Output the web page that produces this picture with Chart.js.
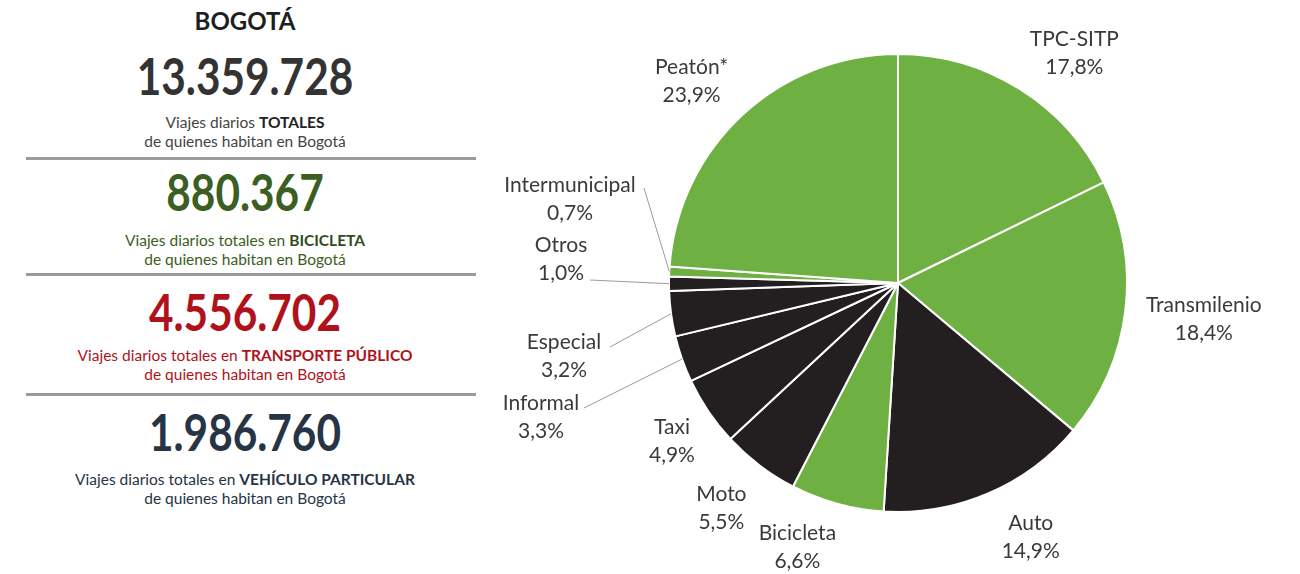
<!DOCTYPE html>
<html>
<head>
<meta charset="utf-8">
<script src="https://cdn.jsdelivr.net/npm/chart.js@4"></script>
<style>
  html, body { margin: 0; padding: 0; background: #fff; }
  body { width: 1300px; height: 574px; position: relative; overflow: hidden; font-family: Lato, "Open Sans", sans-serif; }
  .blk { position: absolute; left: 0; width: 490px; text-align: center; line-height: 1; }
  .big { font-weight: 700; font-size: 51px; transform: scaleX(0.83); }
  .sub { font-size: 15.5px; line-height: 19px; }
  .sub b { font-size: 15.5px; }
  .rule { position: absolute; left: 26px; width: 450px; height: 3px; background: #9b9b9b; }
  #wrap { position: absolute; left: 480px; top: 0; width: 820px; height: 574px; }
</style>
</head>
<body>
<div class="blk" style="top:9px;font-size:24px;font-weight:700;color:#1e1e1e">BOGOTÁ</div>
<div class="blk big" style="top:50px;color:#333">13.359.728</div>
<div class="blk sub" style="top:113px;color:#444">Viajes diarios <b style="color:#222">TOTALES</b><br>de quienes habitan en Bogotá</div>
<div class="rule" style="top:157px"></div>
<div class="blk big" style="top:166px;color:#3b5e22">880.367</div>
<div class="blk sub" style="top:231px;color:#3b5e22">Viajes diarios totales en <b style="color:#2f4d1a">BICICLETA</b><br>de quienes habitan en Bogotá</div>
<div class="rule" style="top:273px"></div>
<div class="blk big" style="top:286px;color:#b0121b">4.556.702</div>
<div class="blk sub" style="top:346px;color:#b0121b">Viajes diarios totales en <b>TRANSPORTE PÚBLICO</b><br>de quienes habitan en Bogotá</div>
<div class="rule" style="top:393px"></div>
<div class="blk big" style="top:406px;color:#263445">1.986.760</div>
<div class="blk sub" style="top:470px;color:#263445">Viajes diarios totales en <b>VEHÍCULO PARTICULAR</b><br>de quienes habitan en Bogotá</div>

<div id="wrap"><canvas id="pie"></canvas></div>

<script>
// reparto modal de viajes (%)
const modos = ['TPC-SITP', 'Transmilenio', 'Auto', 'Bicicleta', 'Moto', 'Taxi', 'Informal', 'Especial', 'Otros', 'Intermunicipal', 'Peatón*'];
const porcentajes = [17.8, 18.4, 14.9, 6.6, 5.5, 4.9, 3.3, 3.2, 1.0, 0.7, 23.9];

const VERDE = '#6fb043';
const NEGRO = '#231f20';
const colores = [VERDE, VERDE, NEGRO, VERDE, NEGRO, NEGRO, NEGRO, NEGRO, NEGRO, VERDE, VERDE];

// etiquetas pequeñas con línea guía (desplazamiento respecto al centro del pastel)
const guias = {
    'Intermunicipal': { tx: -328, ty: -84, lx: -254, ly: -95 },
    'Otros':          { tx: -337, ty: -24, lx: -308, ly: -3 },
    'Especial':       { tx: -334, ty: 73,  lx: -288, ly: 64 },
    'Informal':       { tx: -357, ty: 134, lx: -314, ly: 125 }
};

// pequeños ajustes a mano de las etiquetas exteriores
const ajustes = {
    'TPC-SITP':     [26, 11],
    'Transmilenio': [24, 2],
    'Auto':         [21, -7],
    'Bicicleta':    [-25, -9],
    'Moto':         [-5, -1],
    'Taxi':         [9, -1],
    'Peatón*':      [-13, 6]
};

function fmt(v) {
    return v.toFixed(1).replace('.', ',') + '%';
}

const etiquetas = {
    id: 'etiquetas',
    afterDraw(chart) {
        const ctx = chart.ctx;
        const meta = chart.getDatasetMeta(0);
        ctx.save();
        ctx.font = '21px Lato, "Open Sans", sans-serif';
        ctx.fillStyle = '#3a3a3a';
        ctx.textAlign = 'center';
        ctx.textBaseline = 'middle';
        meta.data.forEach((arc, i) => {
            const p = arc.getProps(['x', 'y', 'outerRadius', 'startAngle', 'endAngle'], true);
            const mid = (p.startAngle + p.endAngle) / 2;
            const nombre = modos[i];
            let cx, cy;
            const g = guias[nombre];
            if (g) {
                cx = p.x + g.tx;
                cy = p.y + g.ty;
                // línea guía hasta el borde del sector
                ctx.strokeStyle = '#9a9a9a';
                ctx.lineWidth = 1;
                ctx.beginPath();
                ctx.moveTo(p.x + g.lx, p.y + g.ly);
                ctx.lineTo(p.x + Math.cos(mid) * p.outerRadius, p.y + Math.sin(mid) * p.outerRadius);
                ctx.stroke();
            } else {
                const r = p.outerRadius * 1.24;
                const a = ajustes[nombre] || [0, 0];
                cx = p.x + Math.cos(mid) * r + a[0];
                cy = p.y + Math.sin(mid) * r + a[1];
            }
            ctx.fillText(nombre, cx, cy - 14);
            ctx.fillText(fmt(porcentajes[i]), cx, cy + 14);
        });
        ctx.restore();
    }
};

new Chart(document.getElementById('pie').getContext('2d'), {
    type: 'pie',
    data: {
        labels: modos,
        datasets: [{
            data: porcentajes,
            backgroundColor: colores,
            borderColor: '#ffffff',
            borderWidth: 2
        }]
    },
    options: {
        responsive: true,
        maintainAspectRatio: false,
        animation: false,
        layout: { padding: { top: 53, bottom: 61, left: 188, right: 172 } },
        plugins: {
            legend: { display: false },
            tooltip: { enabled: false }
        }
    },
    plugins: [etiquetas]
});
</script>
</body>
</html>
